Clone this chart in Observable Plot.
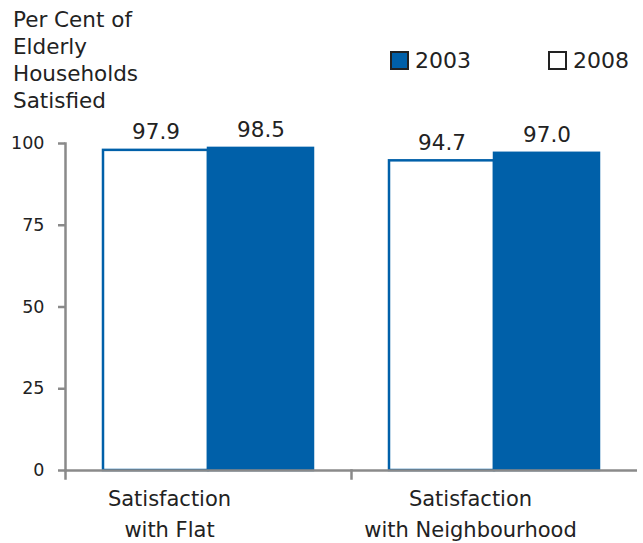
<!DOCTYPE html>
<html>
<head>
<meta charset="utf-8">
<script src="https://cdn.jsdelivr.net/npm/d3@7"></script>
<script src="https://cdn.jsdelivr.net/npm/@observablehq/plot@0.6"></script>
<style>
  body { margin: 0; background: #fff; font-family: "DejaVu Sans", Verdana, sans-serif; color: #222; }
  #wrap { position: relative; width: 643px; height: 543px; }
  #title { position: absolute; left: 13px; top: 6px; font-size: 21.5px; line-height: 27px; }
  .leg { position: absolute; top: 48px; display: flex; align-items: center; font-size: 22px; }
  .sw { width: 15px; height: 15px; border: 2px solid #222; margin-right: 6px; }
  #chart { position: absolute; left: 0; top: 0; }
</style>
</head>
<body>
<div id="wrap">
  <div id="chart"></div>
  <div id="title">Per Cent of<br>Elderly<br>Households<br>Satisfied</div>
  <div class="leg" style="left:390px"><div class="sw" style="background:#0060a9"></div>2003</div>
  <div class="leg" style="left:548px"><div class="sw" style="background:#fff"></div>2008</div>
</div>
<script>
const groups = ["Satisfaction\nwith Flat", "Satisfaction\nwith Neighbourhood"];
const years = ["2008", "2003"];
const values2008 = [97.9, 94.7];
const values2003 = [98.5, 97.0];
const yTicks = [0, 25, 50, 75, 100];

const blue = "#0060a9";
const data = [];
groups.forEach((g, i) => {
  data.push({group: g, year: "2008", value: values2008[i]});
  data.push({group: g, year: "2003", value: values2003[i]});
});

const chart = Plot.plot({
  width: 643,
  height: 543,
  marginTop: 143,
  marginBottom: 73,
  marginLeft: 65,
  marginRight: 6,
  style: {fontFamily: "DejaVu Sans, Verdana, sans-serif", color: "#222", background: "transparent"},
  fx: {domain: groups, padding: 0, label: null},
  x: {domain: years, paddingInner: 0, paddingOuter: 0.35, axis: null},
  y: {domain: [0, 100], label: null},
  color: {domain: ["2003", "2008"], range: [blue, "#ffffff"]},
  marks: [
    Plot.barY(data, {fx: "group", x: "year", y: "value", fill: "year", stroke: blue, strokeWidth: 2.5}),
    Plot.text(data, {fx: "group", x: "year", y: "value", text: d => d.value.toFixed(1), lineAnchor: "bottom", dy: -11, fontSize: 21.5, fill: "#222"}),
    Plot.ruleY([0], {stroke: "#8a8a8a", strokeWidth: 2.5}),
    Plot.frame({anchor: "left", facetAnchor: "left", stroke: "#8a8a8a", strokeWidth: 2.5}),
    Plot.frame({anchor: "left", stroke: "#8a8a8a", strokeWidth: 2.5, insetTop: 327, insetBottom: -8}),
    Plot.axisY({ticks: yTicks, tickSize: 7, tickPadding: 14, fontSize: 17.5, stroke: "#8a8a8a", strokeWidth: 2.5, label: null, tickFormat: d => d, fill: "#222"}),
    Plot.axisFx({ticks: [groups[0]], anchor: "bottom", tickSize: 0, tickPadding: 14, fontSize: 21, lineHeight: 1.45, label: null, dx: -39, fill: "#222"}),
    Plot.axisFx({ticks: [groups[1]], anchor: "bottom", tickSize: 0, tickPadding: 14, fontSize: 21, lineHeight: 1.45, label: null, dx: -24, fill: "#222"})
  ]
});
document.getElementById("chart").appendChild(chart);
</script>
</body>
</html>
